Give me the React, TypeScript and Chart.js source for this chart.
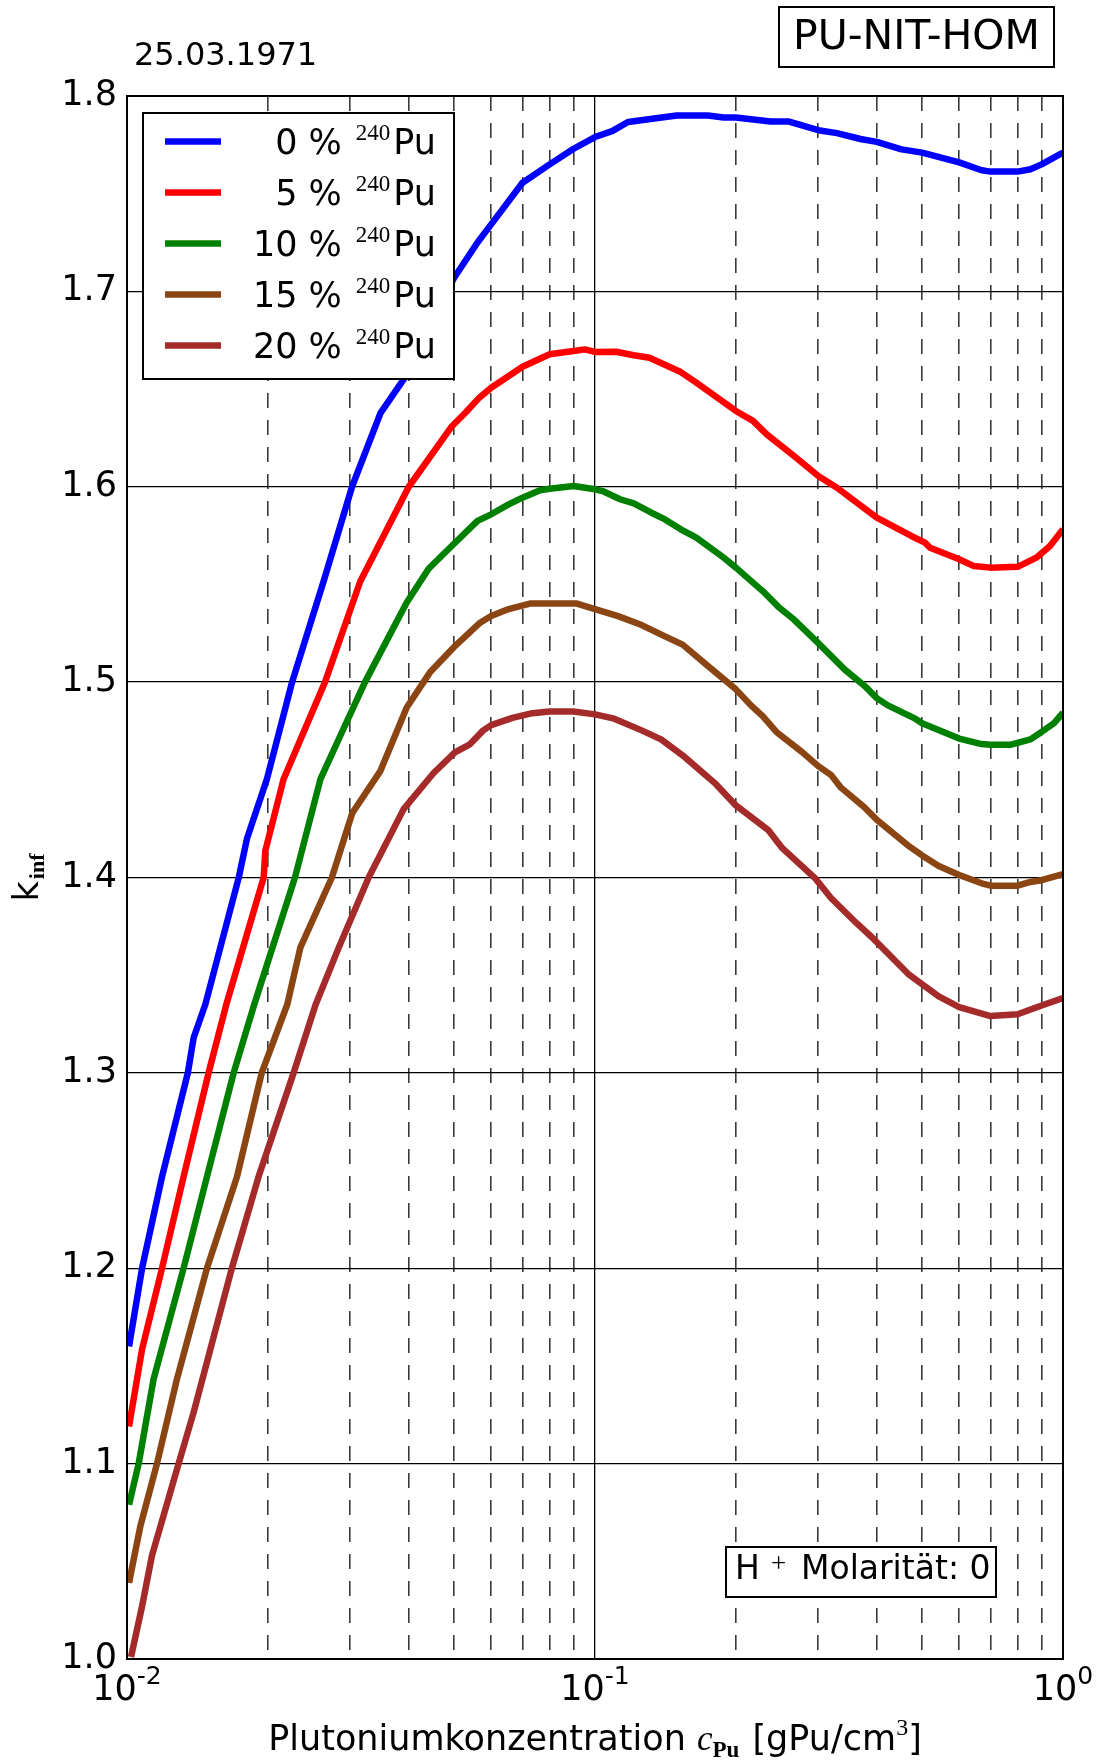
import React, { useEffect, useRef } from 'react';
import { Chart, registerables } from 'chart.js';

Chart.register(...registerables);

const W = 1101;
const H = 1762;

// ---- data ----
const cPu0 = [0.0101, 0.01077, 0.01188, 0.01349, 0.01388, 0.0147, 0.01733, 0.01805, 0.0199, 0.02253, 0.0263, 0.03026, 0.0348, 0.039, 0.0445, 0.05, 0.0561, 0.06, 0.07, 0.08, 0.09, 0.1, 0.1088, 0.1176, 0.1495, 0.1743, 0.1884, 0.2, 0.2372, 0.2587, 0.3, 0.3289, 0.369, 0.4, 0.4518, 0.5, 0.6, 0.67, 0.7, 0.8, 0.852, 0.9, 1.0];
const k0 = [1.16, 1.2, 1.2468, 1.3, 1.318, 1.335, 1.4, 1.42, 1.4503, 1.5, 1.5515, 1.6, 1.6377, 1.655, 1.683, 1.707, 1.725, 1.7343, 1.7556, 1.765, 1.773, 1.779, 1.782, 1.7867, 1.79, 1.79, 1.789, 1.789, 1.787, 1.787, 1.7825, 1.781, 1.778, 1.7765, 1.7727, 1.771, 1.766, 1.762, 1.7613, 1.7613, 1.7625, 1.765, 1.771];

const cPu5 = [0.0101, 0.01077, 0.01188, 0.01321, 0.01494, 0.0163, 0.01959, 0.01975, 0.0216, 0.02649, 0.0315, 0.04, 0.04947, 0.0529, 0.0566, 0.06, 0.07, 0.08, 0.09, 0.0951, 0.1, 0.1109, 0.121, 0.1307, 0.1525, 0.1646, 0.2, 0.2176, 0.2328, 0.2662, 0.3, 0.3289, 0.4, 0.474, 0.507, 0.52, 0.6, 0.645, 0.7, 0.8, 0.877, 0.938, 1.0];
const k5 = [1.119, 1.1585, 1.2, 1.2468, 1.3, 1.335, 1.4, 1.4137, 1.4503, 1.5, 1.5515, 1.6, 1.631, 1.638, 1.6456, 1.6507, 1.6614, 1.6678, 1.6695, 1.6703, 1.669, 1.6691, 1.6673, 1.666, 1.6587, 1.6533, 1.6388, 1.6337, 1.6268, 1.6157, 1.6055, 1.5995, 1.5842, 1.5748, 1.5714, 1.5688, 1.5629, 1.5594, 1.5586, 1.559, 1.5637, 1.5697, 1.5782];

const cPu10 = [0.0101, 0.01059, 0.0114, 0.01321, 0.01482, 0.0169, 0.0187, 0.02285, 0.0259, 0.029, 0.03225, 0.0396, 0.0441, 0.0486, 0.0561, 0.06, 0.0654, 0.07, 0.0763, 0.08, 0.09, 0.1, 0.1038, 0.1131, 0.121, 0.132, 0.1411, 0.1525, 0.1646, 0.1884, 0.2, 0.2282, 0.2466, 0.2662, 0.3, 0.3418, 0.3763, 0.4, 0.4224, 0.4833, 0.5, 0.6, 0.67, 0.7, 0.774, 0.852, 0.9, 0.957, 1.0];
const k10 = [1.079, 1.1, 1.1434, 1.2, 1.2468, 1.3, 1.335, 1.4, 1.4503, 1.476, 1.5, 1.5408, 1.558, 1.568, 1.5825, 1.5859, 1.591, 1.5944, 1.5982, 1.599, 1.6004, 1.5987, 1.5978, 1.5936, 1.5915, 1.5867, 1.5833, 1.5782, 1.574, 1.5637, 1.5586, 1.5466, 1.5385, 1.532, 1.52, 1.5064, 1.4982, 1.4918, 1.4881, 1.4813, 1.479, 1.4711, 1.4683, 1.468, 1.468, 1.4707, 1.4745, 1.479, 1.4844];

const cPu15 = [0.0101, 0.01068, 0.01159, 0.01279, 0.01482, 0.01718, 0.0194, 0.022, 0.02346, 0.0274, 0.0303, 0.0348, 0.0396, 0.0444, 0.05, 0.0566, 0.06, 0.0654, 0.0726, 0.08, 0.0915, 0.1, 0.112, 0.1258, 0.1411, 0.1539, 0.1743, 0.2, 0.2154, 0.2282, 0.2441, 0.2767, 0.3, 0.3197, 0.3354, 0.3763, 0.4, 0.4695, 0.5, 0.5425, 0.6, 0.6766, 0.7, 0.8, 0.852, 0.9, 1.0];
const k15 = [1.039, 1.068, 1.1, 1.1434, 1.2, 1.2468, 1.3, 1.335, 1.3641, 1.4, 1.433, 1.4546, 1.487, 1.505, 1.518, 1.5301, 1.5338, 1.5374, 1.5402, 1.5402, 1.5402, 1.5374, 1.5338, 1.5292, 1.5234, 1.5192, 1.5083, 1.4963, 1.4881, 1.4826, 1.4745, 1.4643, 1.457, 1.4524, 1.446, 1.436, 1.4296, 1.4159, 1.4113, 1.4059, 1.4013, 1.3967, 1.3958, 1.3958, 1.3977, 1.3986, 1.4017];

const cPu20 = [0.0102, 0.01077, 0.01131, 0.01289, 0.01388, 0.01675, 0.0191, 0.0227, 0.0253, 0.02834, 0.03284, 0.039, 0.0452, 0.0502, 0.0539, 0.0577, 0.06, 0.0666, 0.0735, 0.08, 0.09, 0.1, 0.1099, 0.1258, 0.1384, 0.1554, 0.1811, 0.2, 0.235, 0.2513, 0.2959, 0.3197, 0.3622, 0.391, 0.4695, 0.5425, 0.6, 0.7, 0.8, 0.9, 1.0];
const k20 = [1.001, 1.027, 1.053, 1.1, 1.1262, 1.2, 1.2468, 1.3, 1.335, 1.3641, 1.4, 1.435, 1.4535, 1.464, 1.468, 1.4753, 1.478, 1.4817, 1.4841, 1.485, 1.485, 1.4835, 1.4813, 1.4753, 1.4707, 1.4617, 1.4479, 1.4369, 1.4241, 1.415, 1.3994, 1.3894, 1.3766, 1.3693, 1.3501, 1.3391, 1.3337, 1.3291, 1.33, 1.3345, 1.3383];

const seriesPct = ['0', '5', '10', '15', '20'];
const seriesColors = ['#0000ff', '#ff0000', '#008000', '#8b4513', '#a52a2a'];
const seriesX = [cPu0, cPu5, cPu10, cPu15, cPu20];
const seriesY = [k0, k5, k10, k15, k20];

const xGridValues = [0.01, 0.02, 0.03, 0.04, 0.05, 0.06, 0.07, 0.08, 0.09, 0.1, 0.2, 0.3, 0.4, 0.5, 0.6, 0.7, 0.8, 0.9, 1.0];
const xDecadeValues = [0.01, 0.1, 1.0];
const xDecadeExponents = ['-2', '-1', '0'];
const yTickValues = [1.0, 1.1, 1.2, 1.3, 1.4, 1.5, 1.6, 1.7, 1.8];

const dateText = '25.03.1971';
const titleText = 'PU-NIT-HOM';
const molarityText = 'Molarität: 0';

const SANS = '"DejaVu Sans"';
const SERIF = '"Liberation Serif"';
const LINE_W = 6.5;

const isDecade = (v: number | undefined) => {
  if (v === undefined || v <= 0) return false;
  const l = Math.log10(v);
  return Math.abs(l - Math.round(l)) < 1e-9;
};

const decorPlugin = {
  id: 'decor',
  afterDatasetsDraw(chart: any) {
    const { ctx, chartArea: a, scales } = chart;
    const xs = scales.x;
    ctx.save();
    ctx.fillStyle = '#000';
    ctx.textBaseline = 'alphabetic';

    // frame
    ctx.strokeStyle = '#000';
    ctx.lineWidth = 2;
    ctx.setLineDash([]);
    ctx.strokeRect(a.left, a.top, a.right - a.left, a.bottom - a.top);

    // x tick labels (10^n)
    xDecadeValues.forEach((v, i) => {
      const px = xs.getPixelForValue(v);
      ctx.font = `35px ${SANS}`;
      const w1 = ctx.measureText('10').width;
      ctx.font = `25px ${SANS}`;
      const w2 = ctx.measureText(xDecadeExponents[i]).width;
      const x0 = px - (w1 + w2) / 2;
      ctx.textAlign = 'left';
      ctx.font = `35px ${SANS}`;
      ctx.fillText('10', x0, a.bottom + 41);
      ctx.font = `25px ${SANS}`;
      ctx.fillText(xDecadeExponents[i], x0 + w1, a.bottom + 25);
    });

    // x axis title
    const parts = [
      { t: 'Plutoniumkonzentration ', f: `35px ${SANS}`, dy: 0 },
      { t: 'c', f: `italic 35px ${SERIF}`, dy: 0 },
      { t: 'Pu', f: `bold 23px ${SERIF}`, dy: 7 },
      { t: ' [gPu/cm', f: `35px ${SANS}`, dy: 0 },
      { t: '3', f: `24px ${SERIF}`, dy: -15 },
      { t: ']', f: `35px ${SANS}`, dy: 0 },
    ];
    let total = 0;
    parts.forEach((p) => { ctx.font = p.f; total += ctx.measureText(p.t).width + (p.t === 'Pu' ? 2 : 0); });
    let cx = (a.left + a.right) / 2 - total / 2;
    const by = a.bottom + 91;
    ctx.textAlign = 'left';
    parts.forEach((p) => {
      ctx.font = p.f;
      ctx.fillText(p.t, cx, by + p.dy);
      cx += ctx.measureText(p.t).width + (p.t === 'Pu' ? 2 : 0);
    });

    // y axis title k_inf (rotated)
    ctx.save();
    ctx.translate(38, (a.top + a.bottom) / 2);
    ctx.rotate(-Math.PI / 2);
    ctx.font = `35px ${SANS}`;
    const wk = ctx.measureText('k').width;
    ctx.font = `bold 22px ${SERIF}`;
    const wi = ctx.measureText('inf').width;
    const sx = -(wk + wi + 2) / 2;
    ctx.font = `35px ${SANS}`;
    ctx.fillText('k', sx, 0);
    ctx.font = `bold 22px ${SERIF}`;
    ctx.fillText('inf', sx + wk + 2, 6);
    ctx.restore();

    // legend
    const lx = a.left + 16, ly = a.top + 17, lw = 311, lh = 266;
    ctx.fillStyle = '#fff';
    ctx.fillRect(lx, ly, lw, lh);
    ctx.strokeStyle = '#000';
    ctx.lineWidth = 2;
    ctx.strokeRect(lx, ly, lw, lh);
    chart.data.datasets.forEach((ds: any, i: number) => {
      const rowY = ly + 28.5 + 51 * i;
      ctx.strokeStyle = ds.borderColor;
      ctx.lineWidth = LINE_W;
      ctx.beginPath();
      ctx.moveTo(lx + 22, rowY);
      ctx.lineTo(lx + 78, rowY);
      ctx.stroke();
      ctx.fillStyle = '#000';
      ctx.textAlign = 'right';
      let rx = lx + 293;
      const base = rowY + 12;
      ctx.font = `35px ${SANS}`;
      ctx.fillText('Pu', rx, base);
      rx -= ctx.measureText('Pu').width + 3;
      ctx.font = `23px ${SERIF}`;
      ctx.fillText('240', rx, base - 14);
      rx -= ctx.measureText('240').width + 14;
      ctx.font = `35px ${SANS}`;
      ctx.fillText(`${seriesPct[i]} %`, rx, base);
    });

    // date
    ctx.fillStyle = '#000';
    ctx.textAlign = 'left';
    ctx.font = `32px ${SANS}`;
    ctx.fillText(dateText, 134, 65);

    // title box
    ctx.strokeStyle = '#000';
    ctx.lineWidth = 2;
    ctx.fillStyle = '#fff';
    ctx.fillRect(779, 7, 275, 60);
    ctx.strokeRect(779, 7, 275, 60);
    ctx.fillStyle = '#000';
    ctx.textAlign = 'center';
    ctx.font = `41px ${SANS}`;
    ctx.fillText(titleText, 916.5, 49);

    // molarity box
    const mx = 726, my = a.bottom - 112;
    ctx.fillStyle = '#fff';
    ctx.fillRect(mx, my, 270, 50);
    ctx.strokeStyle = '#000';
    ctx.lineWidth = 2;
    ctx.strokeRect(mx, my, 270, 50);
    ctx.fillStyle = '#000';
    ctx.textAlign = 'left';
    ctx.font = `33px ${SANS}`;
    ctx.fillText('H', mx + 9, my + 32);
    ctx.font = `27px ${SERIF}`;
    ctx.fillText('+', mx + 45, my + 25);
    ctx.font = `33px ${SANS}`;
    ctx.fillText(molarityText, mx + 75, my + 32);

    ctx.restore();
  },
};

export default function App() {
  const ref = useRef<HTMLCanvasElement>(null);

  useEffect(() => {
    document.body.style.margin = '0';
    const canvas = ref.current;
    if (!canvas) return;
    Chart.defaults.font.family = SANS;
    const chart = new Chart(canvas, {
      type: 'line',
      data: {
        datasets: seriesPct.map((p, i) => ({
          label: `${p} % 240Pu`,
          data: seriesX[i].map((x, j) => ({ x, y: seriesY[i][j] })),
          borderColor: seriesColors[i],
          backgroundColor: seriesColors[i],
          borderWidth: LINE_W,
          borderJoinStyle: 'round',
          borderCapStyle: 'butt',
          pointRadius: 0,
          fill: false,
          tension: 0,
        })),
      },
      options: {
        responsive: false,
        devicePixelRatio: 1,
        animation: false,
        layout: { padding: { top: 96, right: 38, left: 0, bottom: 0 } },
        plugins: {
          legend: { display: false },
          tooltip: { enabled: false },
        },
        scales: {
          x: {
            type: 'logarithmic',
            min: 0.01,
            max: 1,
            afterBuildTicks: (s: any) => {
              s.ticks = xGridValues.map((v) => ({ value: v }));
            },
            afterFit: (s: any) => {
              s.height = 103;
            },
            ticks: { display: false },
            grid: {
              drawTicks: false,
              color: (c: any) => (isDecade(c.tick?.value) ? '#000' : '#3a3a3a'),
              lineWidth: (c: any) => (isDecade(c.tick?.value) ? 1.3 : 1.6),
            },
            border: {
              display: false,
              dash: (c: any) => (isDecade(c.tick?.value) ? [] : [15, 12]),
            },
          },
          y: {
            type: 'linear',
            min: 1.0,
            max: 1.8,
            afterBuildTicks: (s: any) => {
              s.ticks = yTickValues.map((v) => ({ value: v }));
            },
            afterFit: (s: any) => {
              s.width = 127;
            },
            ticks: {
              color: '#000',
              padding: 10,
              font: { family: SANS, size: 35 },
              callback: (v: any) => Number(v).toFixed(1),
            },
            grid: { drawTicks: false, color: '#000', lineWidth: 1.3 },
            border: { display: false },
          },
        },
      } as any,
      plugins: [decorPlugin],
    });
    return () => chart.destroy();
  }, []);

  return (
    <div style={{ width: W, height: H, position: 'relative', background: '#fff' }}>
      <canvas ref={ref} width={W} height={H} style={{ display: 'block', width: W, height: H }} />
    </div>
  );
}
